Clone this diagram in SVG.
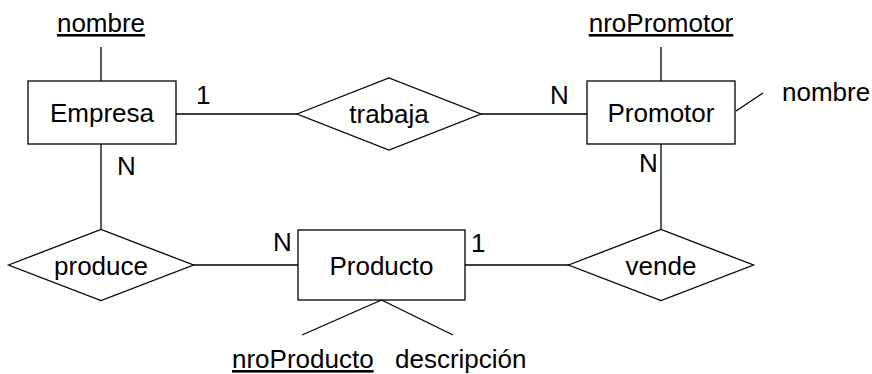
<svg xmlns="http://www.w3.org/2000/svg" width="872" height="374" viewBox="0 0 872 374">
<style>
.shape{fill:#fff;stroke:#000;stroke-width:1.3}
.ln{stroke:#000;stroke-width:1.3;fill:none}
text{font-family:"Liberation Sans",Arial,sans-serif;font-size:26px;fill:#000}
.c{text-anchor:middle}
.u{text-decoration:underline}
</style>
<rect width="872" height="374" fill="#fff"/>
<g id="connectors">
<line class="ln" x1="101" y1="47" x2="101" y2="81"/>
<line class="ln" x1="176" y1="114" x2="297" y2="114"/>
<line class="ln" x1="481" y1="114" x2="587" y2="114"/>
<line class="ln" x1="661" y1="47" x2="661" y2="81"/>
<line class="ln" x1="736" y1="111" x2="763" y2="93"/>
<line class="ln" x1="101" y1="144" x2="101" y2="230"/>
<line class="ln" x1="661" y1="144" x2="661" y2="230"/>
<line class="ln" x1="193" y1="265" x2="298" y2="265"/>
<line class="ln" x1="465" y1="265" x2="569" y2="265"/>
<line class="ln" x1="381.5" y1="300" x2="302" y2="335"/>
<line class="ln" x1="381.5" y1="300" x2="453" y2="335"/>
</g>
<g id="labels">
<text x="196" y="104">1</text>
<text x="550" y="104">N</text>
<text x="117" y="175">N</text>
<text x="639" y="172">N</text>
<text x="273" y="251">N</text>
<text x="471" y="252">1</text>
</g>
<g id="empresa">
<rect class="shape" x="28" y="81" width="148" height="63"/>
<text class="c" x="102" y="122">Empresa</text>
</g>
<g id="attr-empresa-nombre"><text class="c u" x="101" y="32">nombre</text></g>
<g id="trabaja">
<polygon class="shape" points="297,114 389,78 481,114 389,150"/>
<text class="c" x="389" y="123">trabaja</text>
</g>
<g id="promotor">
<rect class="shape" x="587" y="81" width="148" height="63"/>
<text class="c" x="661" y="122">Promotor</text>
</g>
<g id="attr-nroPromotor"><text class="c u" x="661" y="32">nroPromotor</text></g>
<g id="attr-promotor-nombre"><text x="782" y="101">nombre</text></g>
<g id="produce">
<polygon class="shape" points="8.5,265 101,229.5 193.5,265 101,300.5"/>
<text class="c" x="101" y="275">produce</text>
</g>
<g id="producto">
<rect class="shape" x="298" y="230" width="167" height="70"/>
<text class="c" x="381.5" y="275">Producto</text>
</g>
<g id="vende">
<polygon class="shape" points="568.5,265 661,229.5 753.5,265 661,300.5"/>
<text class="c" x="661" y="275">vende</text>
</g>
<g id="attr-nroProducto"><text class="u" x="232" y="368">nroProducto</text></g>
<g id="attr-descripcion"><text x="395" y="368">descripción</text></g>
</svg>
